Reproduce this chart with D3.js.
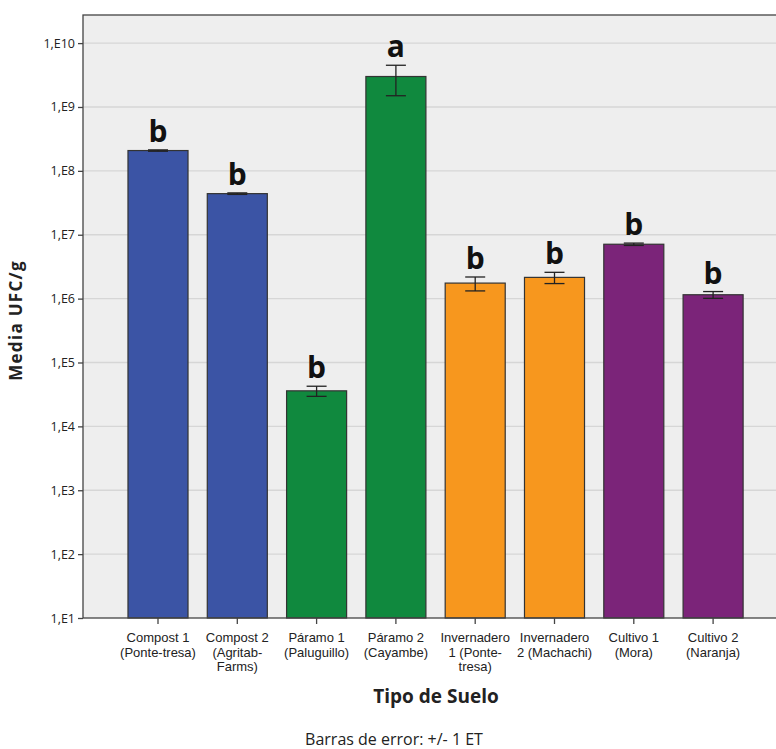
<!DOCTYPE html>
<html><head><meta charset="utf-8">
<script src="https://cdn.jsdelivr.net/npm/d3@7"></script>
<style>
body{margin:0;background:#fff;}
svg{display:block;font-family:"Open Sans",sans-serif;}
</style></head>
<body><svg id="c" width="776" height="749"></svg>
<script>
const categories = [
  ["Compost 1","(Ponte-tresa)"],
  ["Compost 2","(Agritab-","Farms)"],
  ["Páramo 1","(Paluguillo)"],
  ["Páramo 2","(Cayambe)"],
  ["Invernadero","1 (Ponte-","tresa)"],
  ["Invernadero","2 (Machachi)"],
  ["Cultivo 1","(Mora)"],
  ["Cultivo 2","(Naranja)"]
];
const means = [2.08e8, 4.4e7, 3.6e4, 3.0e9, 1.75e6, 2.15e6, 7.1e6, 1.15e6];
const errors = [5e6, 1.2e6, 6.5e3, 1.5e9, 4.3e5, 4.3e5, 3e5, 1.4e5];
const letters = ["b","b","b","a","b","b","b","b"];
const groups = ["compost","compost","paramo","paramo","invernadero","invernadero","cultivo","cultivo"];
const groupColors = {compost:"#3B54A5", paramo:"#10893E", invernadero:"#F7971E", cultivo:"#7B2479"};
const yTicks = [1e1,1e2,1e3,1e4,1e5,1e6,1e7,1e8,1e9,1e10];
const yTickLabels = ["1,E1","1,E2","1,E3","1,E4","1,E5","1,E6","1,E7","1,E8","1,E9","1,E10"];

(function(){
const svg = d3.select("#c");
const pLeft = 83, pTop = 15, pRight = 789, pBottom = 618;
const keys = categories.map((c,i)=>"k"+i);

const y = d3.scaleLog().domain([1e1, Math.pow(10,10.44)]).range([pBottom, pTop]);
const x = d3.scaleBand().domain(keys).range([118.35, 752.75]).paddingInner(0.243).paddingOuter(0.1215);

svg.append("rect").attr("x",pLeft).attr("y",pTop).attr("width",pRight-pLeft).attr("height",pBottom-pTop)
  .attr("fill","#EEEEEE");

svg.append("g").selectAll("line").data(yTicks.slice(1)).join("line")
  .attr("x1",pLeft).attr("x2",pRight).attr("y1",d=>y(d)).attr("y2",d=>y(d))
  .attr("stroke","#D6D6D6").attr("stroke-width",1.3);

svg.append("g").selectAll("rect").data(means).join("rect")
  .attr("x",(d,i)=>x(keys[i])).attr("width",x.bandwidth())
  .attr("y",d=>y(d)).attr("height",d=>pBottom-y(d))
  .attr("fill",(d,i)=>groupColors[groups[i]])
  .attr("stroke","#333").attr("stroke-width",1.2);

const eg = svg.append("g").attr("stroke","#222").attr("stroke-width",1.3);
means.forEach((m,i)=>{
  const cx = x(keys[i]) + x.bandwidth()/2;
  const hi = y(m+errors[i]), lo = y(m-errors[i]);
  eg.append("line").attr("x1",cx).attr("x2",cx).attr("y1",hi).attr("y2",lo);
  eg.append("line").attr("x1",cx-10).attr("x2",cx+10).attr("y1",hi).attr("y2",hi);
  eg.append("line").attr("x1",cx-10).attr("x2",cx+10).attr("y1",lo).attr("y2",lo);
});

svg.append("g").selectAll("text").data(letters).join("text")
  .attr("x",(d,i)=>x(keys[i])+x.bandwidth()/2)
  .attr("y",(d,i)=>y(means[i]+errors[i]) - 8)
  .attr("text-anchor","middle").attr("font-size",30).attr("font-weight","bold")
  .attr("fill","#111").text(d=>d);

svg.append("rect").attr("x",pLeft).attr("y",pTop).attr("width",pRight-pLeft).attr("height",pBottom-pTop)
  .attr("fill","none").attr("stroke","#444").attr("stroke-width",1.3);

const yAxis = d3.axisLeft(y).tickValues(yTicks).tickSize(5).tickPadding(3)
  .tickFormat((d,i)=>yTickLabels[i]);
const ya = svg.append("g").attr("transform",`translate(${pLeft},0)`).call(yAxis);
ya.select(".domain").remove();
ya.selectAll("line").attr("stroke","#444").attr("stroke-width",1.3);
ya.selectAll("text").attr("font-family","'Open Sans',sans-serif").attr("font-size",12.5).attr("fill","#222");

const xAxis = d3.axisBottom(x).tickSize(6).tickFormat("");
const xa = svg.append("g").attr("transform",`translate(0,${pBottom})`).call(xAxis);
xa.select(".domain").remove();
xa.selectAll("line").attr("stroke","#444").attr("stroke-width",1.3);
xa.selectAll(".tick").each(function(d,i){
  const g = d3.select(this);
  categories[i].forEach((line,j)=>{
    g.append("text").attr("fill","#222")
      .attr("font-family","'Liberation Sans',sans-serif").attr("font-size",13)
      .attr("text-anchor","middle")
      .attr("x",0).attr("y",24+j*14.6).text(line);
  });
});

svg.append("text").attr("x",(pLeft+pRight)/2).attr("y",703).attr("text-anchor","middle")
  .attr("font-size",19).attr("font-weight","bold").attr("fill","#222").text("Tipo de Suelo");
svg.append("text").attr("x",394).attr("y",745).attr("text-anchor","middle")
  .attr("font-size",16).attr("fill","#222").text("Barras de error: +/- 1 ET");

svg.append("text").attr("transform",`translate(22,${(pTop+pBottom)/2+4}) rotate(-90)`)
  .attr("text-anchor","middle").attr("font-size",17).attr("font-weight","bold")
  .attr("letter-spacing",1.3).attr("fill","#222").text("Media UFC/g");
})();
</script></body></html>
